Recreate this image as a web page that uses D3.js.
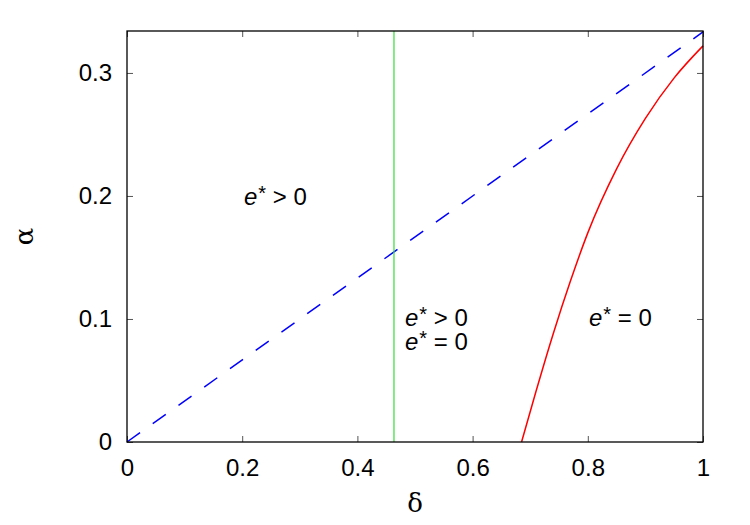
<!DOCTYPE html>
<html>
<head>
<meta charset="utf-8">
<script src="https://cdn.jsdelivr.net/npm/d3@7"></script>
<style>
  body { margin: 0; background: #fff; }
  svg { display: block; font-family: "Liberation Sans", Arial, sans-serif; }
</style>
</head>
<body>
<svg id="chart" width="750" height="525"></svg>
<script>
// === Data ===
const xTicks = [0, 0.2, 0.4, 0.6, 0.8, 1];
const yTicks = [0, 0.1, 0.2, 0.3];

// blue dashed line alpha = delta / 3
const blueDelta = [0, 1];
const blueAlpha = [0, 0.3333];

// green vertical line
const greenDelta = 0.4635;

// red curve
const redDelta = [0.685, 0.71, 0.74, 0.77, 0.80, 0.85, 0.90, 0.95, 1.0];
const redAlpha = [0, 0.041, 0.088, 0.131, 0.170, 0.222, 0.263, 0.296, 0.322];

// region labels
const labelRel = [">", ">", "=", "="];
const labelDelta = [0.203, 0.4826, 0.4826, 0.802];
const labelAlpha = [0.1927, 0.0939, 0.0744, 0.0939];

const svg = d3.select("#chart");
const margin = { top: 31, right: 47, bottom: 83, left: 127 };
const width = +svg.attr("width");
const height = +svg.attr("height");
const innerWidth = width - margin.left - margin.right;
const innerHeight = height - margin.top - margin.bottom;

const g = svg.append("g").attr("transform", `translate(${margin.left},${margin.top})`);

const x = d3.scaleLinear().domain([0, 1]).range([0, innerWidth]);
const y = d3.scaleLinear().domain([0, 0.3341]).range([innerHeight, 0]);

// === Axes (ticks inside, mirrored) ===
const tickLen = 6;
const fmt = d => d === 0 || d === 1 ? String(d) : d3.format(".1f")(d);

const xAxisB = g.append("g").attr("transform", `translate(0,${innerHeight})`)
  .call(d3.axisBottom(x).tickValues(xTicks).tickSize(-tickLen).tickPadding(17).tickFormat(fmt));
const xAxisT = g.append("g")
  .call(d3.axisTop(x).tickValues(xTicks).tickSize(-tickLen));
const yAxisL = g.append("g")
  .call(d3.axisLeft(y).tickValues(yTicks).tickSize(-tickLen).tickPadding(15).tickFormat(fmt));
const yAxisR = g.append("g").attr("transform", `translate(${innerWidth},0)`)
  .call(d3.axisRight(y).tickValues(yTicks).tickSize(-tickLen));

xAxisT.selectAll(".tick text").remove();
yAxisR.selectAll(".tick text").remove();

[xAxisB, xAxisT, yAxisL, yAxisR].forEach(a => {
  a.select(".domain").remove();
  a.selectAll(".tick line").attr("stroke", "#555").attr("stroke-width", 1);
  a.selectAll(".tick text").attr("font-size", 24).attr("fill", "#000")
    .attr("font-family", "Liberation Sans, Arial, sans-serif");
});

// === Lines ===
g.append("path")
  .datum(blueDelta.map((d, i) => [d, blueAlpha[i]]))
  .attr("d", d3.line().x(d => x(d[0])).y(d => y(d[1])))
  .attr("fill", "none")
  .attr("stroke", "#0000ff")
  .attr("stroke-width", 1.5)
  .attr("stroke-dasharray", "16,15.6");

g.append("line")
  .attr("x1", x(greenDelta)).attr("x2", x(greenDelta))
  .attr("y1", 0).attr("y2", innerHeight)
  .attr("stroke", "#33dd33")
  .attr("stroke-width", 1.2);

g.append("path")
  .datum(redDelta.map((d, i) => [d, redAlpha[i]]))
  .attr("d", d3.line().x(d => x(d[0])).y(d => y(d[1])).curve(d3.curveMonotoneX))
  .attr("fill", "none")
  .attr("stroke", "#ff0000")
  .attr("stroke-width", 1.5);

// === Frame ===
g.append("rect")
  .attr("width", innerWidth).attr("height", innerHeight)
  .attr("fill", "none").attr("stroke", "#000").attr("stroke-width", 1.3);

// === Region labels ===
labelRel.forEach((rel, i) => {
  const t = g.append("text")
    .attr("x", x(labelDelta[i]))
    .attr("y", y(labelAlpha[i]))
    .attr("font-size", 24)
    .attr("fill", "#000");
  t.append("tspan").attr("font-style", "italic").text("e");
  t.append("tspan").attr("font-size", 20).attr("dx", 1).attr("dy", -5).text("*");
  t.append("tspan").attr("dy", 5).text(` ${rel} 0`);
});

// === Axis titles ===
svg.append("text")
  .attr("x", margin.left + innerWidth / 2)
  .attr("y", 512)
  .attr("text-anchor", "middle")
  .attr("font-size", 26)
  .attr("font-family", "DejaVu Serif, Liberation Serif, serif")
  .text("δ");

svg.append("text")
  .attr("transform", `translate(33,${margin.top + innerHeight / 2}) rotate(-90)`)
  .attr("text-anchor", "middle")
  .attr("font-size", 26)
  .attr("font-family", "DejaVu Serif, Liberation Serif, serif")
  .text("α");
</script>
</body>
</html>
